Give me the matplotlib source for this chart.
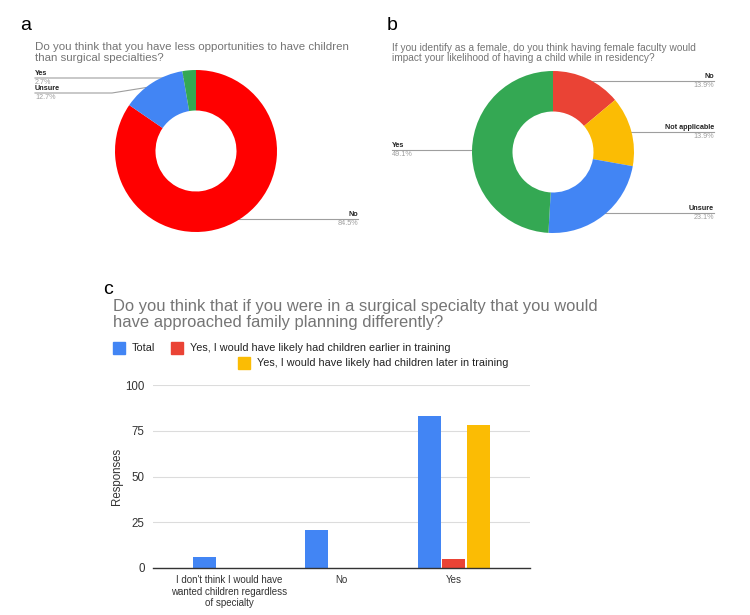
import numpy as np
import matplotlib
matplotlib.use("Agg")
import matplotlib.pyplot as plt
from matplotlib.patches import Rectangle

plt.rcParams['font.family'] = ['Liberation Sans', 'DejaVu Sans']

### Data
# panel a
a_labels = ["No", "Unsure", "Yes"]
a_values = [84.5, 12.7, 2.7]
a_colors = ["#ff0000", "#4285f4", "#34a853"]

# panel b
b_labels = ["No", "Not applicable", "Unsure", "Yes"]
b_values = [13.9, 13.9, 23.1, 49.1]
b_colors = ["#ea4335", "#fbbc04", "#4285f4", "#34a853"]

# panel c
c_categories = ["I don't think I would have\nwanted children regardless\nof specialty", "No", "Yes"]
c_series = ["Total", "Yes, I would have likely had children earlier in training",
            "Yes, I would have likely had children later in training"]
c_total = [6, 21, 83]
c_earlier = [0, 0, 5]
c_later = [0, 0, 78]
c_colors = ["#4285f4", "#ea4335", "#fbbc04"]

W, H = 750, 615
fig = plt.figure(figsize=(7.5, 6.15), dpi=100)

# overlay in pixel coords for texts and leader lines
ov = fig.add_axes([0, 0, 1, 1])
ov.set_xlim(0, W)
ov.set_ylim(H, 0)
ov.axis("off")

TITLE_GRAY = "#757575"
LINE_GRAY = "#9e9e9e"


def title(x, ys, lines, size):
    for y, t in zip(ys, lines):
        ov.text(x, y, t, fontsize=size, color=TITLE_GRAY, ha="left", va="center")


def donut(cx, cy, r, labels, values, colors, layout):
    ax = fig.add_axes([(cx - r) / W, 1 - (cy + r) / H, 2 * r / W, 2 * r / H])
    ax.pie(values, colors=colors, startangle=90, counterclock=False, radius=1,
           wedgeprops=dict(width=0.5, edgecolor="none"))
    ax.set_xlim(-1, 1)
    ax.set_ylim(-1, 1)
    ax.set_aspect("equal")
    ax.axis("off")
    total = sum(values)
    cum = np.cumsum([0] + list(values))
    for i, lab in enumerate(labels):
        mid = (cum[i] + values[i] / 2) / total * 2 * np.pi
        dx = cx + 0.95 * r * np.sin(mid)
        dy = cy - 0.95 * r * np.cos(mid)
        lx, ly, ha, knee = layout[lab]
        if knee is None:
            knee = dx
        ov.plot([lx, knee, dx], [ly, ly, dy], color=LINE_GRAY, lw=0.8, zorder=3)
        ov.plot(dx, dy, "o", ms=1.5, color="#bdbdbd", zorder=4)
        ov.text(lx, ly - 1.2, lab, ha=ha, va="bottom", fontsize=5.2,
                color="#222222", fontweight="bold")
        ov.text(lx, ly + 1.0, f"{values[i]}%", ha=ha, va="top", fontsize=5.2,
                color="#9e9e9e")


### Panel a
ov.text(20, 25, "a", fontsize=14, ha="left", va="center")
title(35, [47, 58], ["Do you think that you have less opportunities to have children",
                     "than surgical specialties?"], 8.25)
a_layout = {"Yes": (35, 78, "left", 182),
            "Unsure": (35, 93, "left", 112),
            "No": (358, 219, "right", None)}
donut(196, 151, 81, a_labels, a_values, a_colors, a_layout)

### Panel b
ov.text(387, 25, "b", fontsize=14, ha="left", va="center")
title(392, [48, 58], ["If you identify as a female, do you think having female faculty would",
                      "impact your likelihood of having a child while in residency?"], 7.3)
b_layout = {"No": (714, 81, "right", None),
            "Not applicable": (714, 132, "right", None),
            "Unsure": (714, 213, "right", None),
            "Yes": (392, 150, "left", None)}
donut(553, 152, 81, b_labels, b_values, b_colors, b_layout)

### Panel c
ov.text(103, 289, "c", fontsize=14, ha="left", va="center")
title(113, [307, 323], ["Do you think that if you were in a surgical specialty that you would",
                        "have approached family planning differently?"], 11.9)

# legend
leg_pos = [(113, 348), (171, 348), (238, 363)]
for (lx, ly), name, col in zip(leg_pos, c_series, c_colors):
    ov.add_patch(Rectangle((lx, ly - 6), 12, 12, color=col, clip_on=False))
    ov.text(lx + 19, ly, name, fontsize=7.8, color="#222222", ha="left", va="center")

axc = fig.add_axes([153 / W, 1 - 568 / H, (530 - 153) / W, (568 - 385) / H])
x = np.arange(len(c_categories))
bw = 0.205
off = 0.22
for k, (vals, col) in enumerate(zip([c_total, c_earlier, c_later], c_colors)):
    axc.bar(x + (k - 1) * off, vals, width=bw, color=col, zorder=3)
axc.set_xlim(-0.68, 2.68)
axc.set_ylim(0, 100)
axc.set_yticks([0, 25, 50, 75, 100])
axc.grid(axis="y", color="#dcdcdc", lw=0.8, zorder=0)
for s in ["top", "right", "left"]:
    axc.spines[s].set_visible(False)
axc.spines["bottom"].set_color("#333333")
axc.spines["bottom"].set_linewidth(1.0)
axc.spines["bottom"].set_zorder(4)
axc.tick_params(axis="y", length=0, labelsize=8.3, colors="#333333", pad=6)
axc.tick_params(axis="x", length=0, labelsize=7.0, colors="#333333", pad=5)
axc.set_xticks(x)
axc.set_xticklabels(c_categories, linespacing=1.2)
axc.set_ylabel("Responses", fontsize=8.3, color="#333333", labelpad=2)

fig.savefig("out.png", dpi=100)
